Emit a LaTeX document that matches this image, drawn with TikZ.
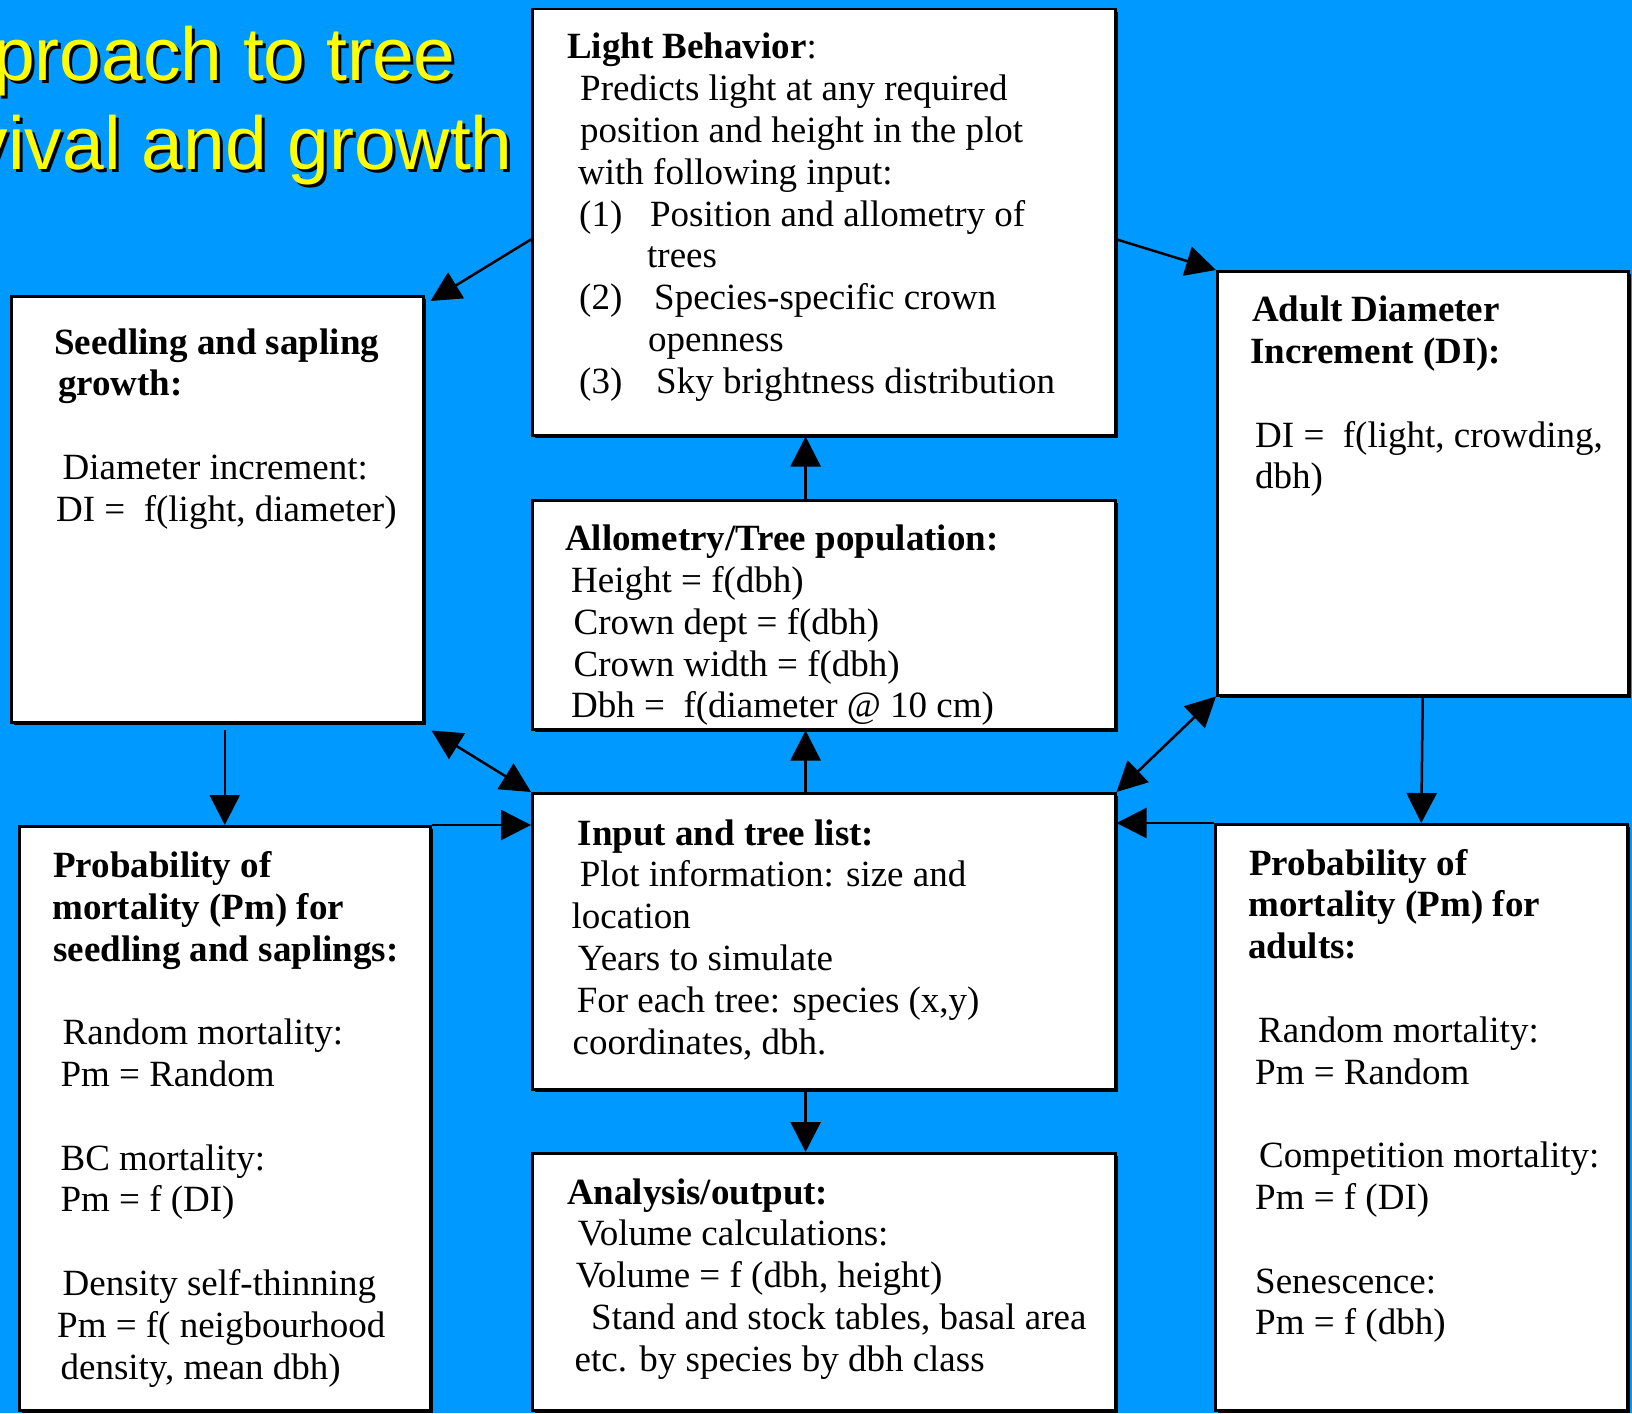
\documentclass[tikz,border=0pt]{standalone}
\usepackage{fontspec}
\setmainfont{Liberation Serif}
\newfontfamily\titlefont{Liberation Sans}
\usetikzlibrary{arrows.meta,calc,shadows}
\definecolor{bg}{RGB}{0,153,255}
\definecolor{ttl}{RGB}{255,255,0}
\newcommand\tline[2]{\hbox{\kern#1pt #2}}
\newcommand\tblock[1]{\vtop{\baselineskip=41.8pt\lineskiplimit=-1000pt\lineskip=0pt #1}}
\begin{document}
\begin{tikzpicture}[x=1pt,y=-1pt,
  box/.style={draw=black,line width=2.5pt,fill=white,inner sep=0pt,anchor=north west,
    drop shadow={shadow xshift=3pt,shadow yshift=-3pt,fill=black,opacity=1}},
  txt/.style={anchor=base west,inner sep=0pt,font=\fontsize{37pt}{41.8pt}\selectfont},
  ttlfront/.style={anchor=base east,inner sep=0pt,text=ttl,font=\titlefont\fontsize{75pt}{90pt}\selectfont},
  ttlshadow/.style={anchor=base east,inner sep=0pt,text=black,font=\titlefont\fontsize{75pt}{90pt}\selectfont},
  arr/.style={line width=2.5pt,-{Triangle[length=30pt,width=30pt]}},
  dbl/.style={line width=2.5pt,{Triangle[length=30pt,width=30pt]}-{Triangle[length=30pt,width=30pt]}}]
\useasboundingbox (0,0) rectangle (1632,1413);
\fill[bg] (0,0) rectangle (1632,1413);
\begin{scope}
\clip (0,0) rectangle (1632,1413);
% title
\node[ttlshadow] (t1s) at (459,83) {proach to tree};
\node[ttlfront] (t1) at (456,80) {proach to tree};
\node[ttlshadow] (t2s) at (516,172) {vival and growth};
\node[ttlfront] (t2) at (513,169) {vival and growth};
% boxes
\node[box,minimum width=583pt,minimum height=426pt] (light) at (531,8) {};
\node[box,minimum width=583pt,minimum height=229pt] (allo) at (531,499) {};
\node[box,minimum width=583pt,minimum height=296pt] (input) at (531,792) {};
\node[box,minimum width=583pt,minimum height=257pt] (anal) at (531,1152) {};
\node[box,minimum width=412pt,minimum height=426pt] (seed) at (10,295) {};
\node[box,minimum width=411pt,minimum height=424pt] (adult) at (1216,270) {};
\node[box,minimum width=411pt,minimum height=584pt] (probs) at (18,825) {};
\node[box,minimum width=412pt,minimum height=586pt] (proba) at (1214,823) {};
% connectors
\coordinate (ax) at ($(light.south west)!0.469!(light.south east)$);
\draw[arr] (allo.north -| ax) -- (light.south -| ax);
\draw[arr] (input.north -| ax) -- (allo.south -| ax);
\draw[arr] (input.south -| ax) -- (anal.north -| ax);
\draw[arr] ($(light.north west)!0.54!(light.south west)$) -- ([shift={(6,6)}]seed.north east);
\draw[arr] ($(light.north east)!0.54!(light.south east)$) -- (adult.north west);
\draw[dbl] ([shift={(7,7)}]seed.south east) -- (input.north west);
\draw[dbl] (adult.south west) -- (input.north east);
\draw[arr] ($(probs.north |- seed.south)+(0,6)$) -- (probs.north);
\draw[arr] (adult.south) -- (proba.north);
\draw[arr] (probs.north east) -- (probs.north east -| input.west);
\draw[arr] (proba.north west) -- (proba.north west -| input.east);
% texts
\node[txt] (lightT) at (567,59) {\tblock{
\tline{0}{\textbf{Light Behavior}:}
\tline{13}{Predicts light at any required}
\tline{13}{position and height in the plot}
\tline{11}{with following input:}
\tline{12}{\rlap{(1)}\kern71pt Position and allometry of}
\tline{80}{trees}
\tline{12}{\rlap{(2)}\kern75pt Species-specific crown}
\tline{81}{openness}
\tline{12}{\rlap{(3)}\kern77pt Sky brightness distribution}}};
\node[txt] (seedT) at (54,354) {\tblock{
\tline{0}{\textbf{Seedling and sapling}}
\tline{4}{\textbf{growth:}}
\tline{0}{}
\tline{8.5}{Diameter increment:}
\tline{2}{DI =\ \ f(light, diameter)}}};
\node[txt] (adultT) at (1250,321.6) {\tblock{
\tline{2}{\textbf{Adult Diameter}}
\tline{0}{\textbf{Increment (DI):}}
\tline{0}{}
\tline{5}{DI =\ \ f(light, crowding,}
\tline{5}{dbh)}}};
\node[txt] (alloT) at (565,550.6) {\tblock{
\tline{0}{\textbf{Allometry/Tree population:}}
\tline{6}{Height = f(dbh)}
\tline{8.5}{Crown dept = f(dbh)}
\tline{8.5}{Crown width = f(dbh)}
\tline{6}{Dbh =\ \ f(diameter @ 10 cm)}}};
\node[txt] (inputT) at (571,845) {\tblock{
\tline{6.6}{\textbf{Input and tree list:}}
\tline{8.7}{Plot information: size and}
\tline{0.4}{location}
\tline{6.6}{Years to simulate}
\tline{5.6}{For each tree: species (x,y)}
\tline{1.4}{coordinates, dbh.}}};
\node[txt] (analT) at (567,1204) {\tblock{
\tline{0}{\textbf{Analysis/output:}}
\tline{10.6}{Volume calculations:}
\tline{8.6}{Volume = f (dbh, height)}
\tline{24}{Stand and stock tables, basal area}
\tline{7.5}{etc. by species by dbh class}}};
\node[txt] (probsT) at (52,877.4) {\tblock{
\tline{1}{\textbf{Probability of}}
\tline{0}{\textbf{mortality (Pm) for}}
\tline{1}{\textbf{seedling and saplings:}}
\tline{0}{}
\tline{10.5}{Random mortality:}
\tline{8.4}{Pm = Random}
\tline{0}{}
\tline{8.4}{BC mortality:}
\tline{8.4}{Pm = f (DI)}
\tline{0}{}
\tline{10.5}{Density self-thinning}
\tline{5}{Pm = f( neigbourhood}
\tline{8.4}{density, mean dbh)}}};
\node[txt] (probaT) at (1248,875) {\tblock{
\tline{1}{\textbf{Probability of}}
\tline{0}{\textbf{mortality (Pm) for}}
\tline{0}{\textbf{adults:}}
\tline{0}{}
\tline{10}{Random mortality:}
\tline{7}{Pm = Random}
\tline{0}{}
\tline{11}{Competition mortality:}
\tline{7}{Pm = f (DI)}
\tline{0}{}
\tline{7}{Senescence:}
\tline{7}{Pm = f (dbh)}}};
\end{scope}
\end{tikzpicture}
\end{document}
